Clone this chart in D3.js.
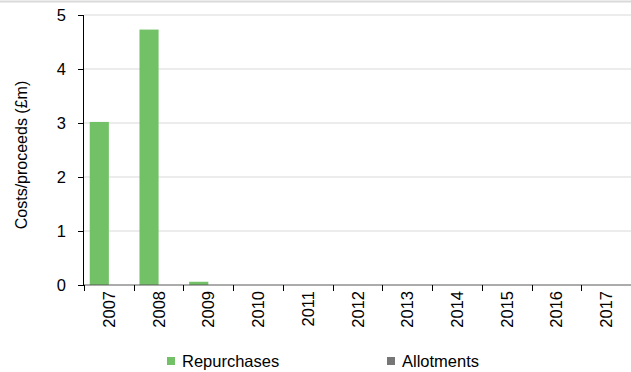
<!DOCTYPE html>
<html>
<head>
<meta charset="utf-8">
<script src="https://cdn.jsdelivr.net/npm/d3@7"></script>
<style>
  body { margin: 0; background: #fff; }
  text { font-family: "Liberation Sans", Arial, sans-serif; }
</style>
</head>
<body>
<script>
const years = ["2007", "2008", "2009", "2010", "2011", "2012", "2013", "2014", "2015", "2016", "2017"]
const repurchases = [3.02, 4.73, 0.06, 0, 0, 0, 0, 0, 0, 0, 0]
const allotments = [0, 0, 0, 0, 0, 0, 0, 0, 0, 0, 0]
const seriesNames = ["Repurchases", "Allotments"]
const seriesColors = ["#73c167", "#767676"]
const yTicks = [0, 1, 2, 3, 4, 5]

const W = 631, H = 372
const m = { left: 84, right: 631, top: 15, bottom: 285 }
const fs = 16.5

const svg = d3.select("body").append("svg")
  .attr("width", W)
  .attr("height", H)

// thin frame line at the top (cut-off chart border)
svg.append("line")
  .attr("x1", 0).attr("x2", W).attr("y1", 1.5).attr("y2", 1.5)
  .attr("stroke", "#d9d9d9").attr("stroke-width", 2)

const x = d3.scaleBand().domain(years).range([m.left, m.right]).paddingInner(0).paddingOuter(0)
const xs = d3.scaleBand().domain(seriesNames).range([0, x.bandwidth()]).paddingInner(0).paddingOuter(0.3)
const y = d3.scaleLinear().domain([0, 5]).range([m.bottom, m.top])

// gridlines
svg.append("g").selectAll("line")
  .data(yTicks.filter(d => d > 0))
  .join("line")
  .attr("x1", m.left).attr("x2", m.right)
  .attr("y1", d => y(d)).attr("y2", d => y(d))
  .attr("stroke", "#d9d9d9").attr("stroke-width", 1)

// bars
const data = years.map((yr, i) => ({ yr, vals: [repurchases[i], allotments[i]] }))
const groups = svg.append("g").selectAll("g")
  .data(data)
  .join("g")
  .attr("transform", d => `translate(${x(d.yr)},0)`)

groups.selectAll("rect")
  .data(d => d.vals.map((v, k) => ({ v, k })))
  .join("rect")
  .attr("x", d => xs(seriesNames[d.k]))
  .attr("width", xs.bandwidth())
  .attr("y", d => y(d.v))
  .attr("height", d => y(0) - y(d.v))
  .attr("fill", d => seriesColors[d.k])

// y axis
const yAxis = svg.append("g")
  .attr("transform", `translate(${m.left},0)`)
  .call(d3.axisLeft(y).tickValues(yTicks).tickFormat(d3.format("d")).tickSize(6).tickPadding(12))
yAxis.select(".domain").attr("stroke", "#000").attr("d", `M-0.5,${y(0)}V${y(5)}`)
yAxis.selectAll(".tick line").attr("stroke", "#000")
yAxis.selectAll("text").attr("font-size", fs).attr("fill", "#000")
  .attr("font-family", "'Liberation Sans', Arial, sans-serif")

// x axis
const xAxis = svg.append("g")
  .attr("transform", `translate(0,${m.bottom})`)
xAxis.append("line")
  .attr("x1", m.left).attr("x2", m.right)
  .attr("stroke", "#595959")
xAxis.selectAll("line.tk")
  .data(years.concat(["end"]))
  .join("line")
  .attr("class", "tk")
  .attr("x1", (d, i) => Math.round(m.left + i * x.step()) + 0.5)
  .attr("x2", (d, i) => Math.round(m.left + i * x.step()) + 0.5)
  .attr("y1", 0).attr("y2", 6)
  .attr("stroke", "#000")
xAxis.selectAll("text")
  .data(years)
  .join("text")
  .attr("transform", d => `translate(${x(d) + x.bandwidth() / 2 + 6},6) rotate(-90)`)
  .attr("text-anchor", "end")
  .attr("font-size", fs)
  .text(d => d)

// y axis title
svg.append("text")
  .attr("transform", `translate(27,155) rotate(-90)`)
  .attr("text-anchor", "middle")
  .attr("font-size", 16)
  .text("Costs/proceeds (£m)")

// legend
const legendX = [167, 387]
const legend = svg.append("g").selectAll("g")
  .data(seriesNames)
  .join("g")
  .attr("transform", (d, i) => `translate(${legendX[i]},357)`)
legend.append("rect")
  .attr("width", 8).attr("height", 8)
  .attr("fill", (d, i) => seriesColors[i])
legend.append("text")
  .attr("x", 15).attr("y", 10)
  .attr("font-size", fs)
  .text(d => d)
</script>
</body>
</html>
